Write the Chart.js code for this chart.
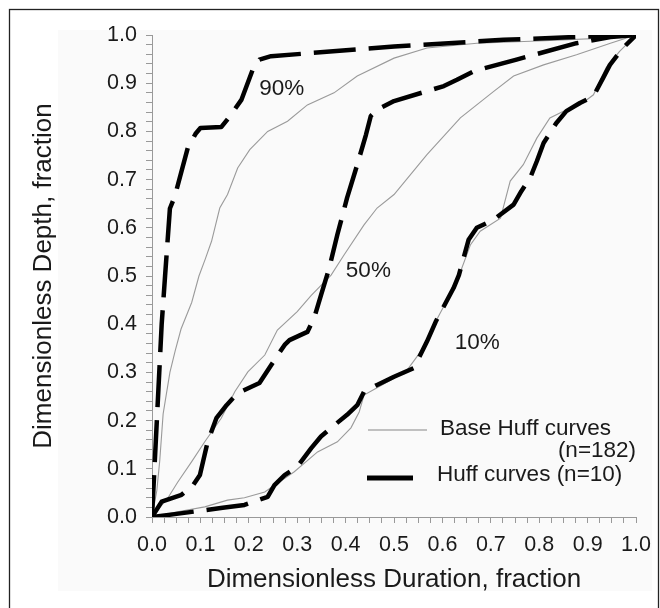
<!DOCTYPE html>
<html>
<head>
<meta charset="utf-8">
<script src="https://cdn.jsdelivr.net/npm/chart.js@4.4.1/dist/chart.umd.min.js"></script>
<style>
html,body{margin:0;padding:0;background:#fff;}
canvas{display:block;}
</style>
</head>
<body>
<canvas id="c" width="660" height="608"></canvas>
<script>
// ---- data ----
const huff90X = [0,0.005,0.01,0.015,0.02,0.027,0.037,0.047,0.074,0.09,0.1,0.143,0.16,0.185,0.208,0.222,0.246,0.5,0.726,0.953,1];
const huff90Y = [0,0.1,0.2,0.3,0.4,0.5,0.64,0.665,0.766,0.795,0.807,0.809,0.83,0.866,0.928,0.949,0.956,0.976,0.99,0.999,1];

const huff50X = [0,0.02,0.061,0.085,0.099,0.115,0.133,0.154,0.177,0.222,0.246,0.274,0.284,0.321,0.335,0.349,0.366,0.383,0.403,0.424,0.442,0.452,0.465,0.5,0.603,0.63,0.665,0.753,0.877,0.947,1];
const huff50Y = [0,0.032,0.046,0.066,0.087,0.156,0.205,0.232,0.257,0.278,0.315,0.357,0.367,0.384,0.413,0.46,0.516,0.586,0.662,0.731,0.793,0.832,0.845,0.863,0.894,0.907,0.925,0.949,0.983,0.996,1];

const huff10X = [0,0.047,0.146,0.191,0.239,0.253,0.274,0.3,0.329,0.349,0.37,0.403,0.424,0.438,0.465,0.5,0.541,0.568,0.586,0.623,0.634,0.654,0.671,0.706,0.747,0.763,0.781,0.795,0.809,0.835,0.856,0.884,0.912,0.932,0.946,0.973,1];
const huff10Y = [0,0.006,0.019,0.025,0.042,0.066,0.087,0.104,0.143,0.167,0.185,0.212,0.232,0.26,0.274,0.291,0.309,0.364,0.405,0.475,0.502,0.575,0.6,0.617,0.648,0.676,0.703,0.738,0.776,0.817,0.842,0.859,0.873,0.911,0.938,0.973,1];

const base90X = [0,0.01,0.016,0.023,0.037,0.048,0.06,0.082,0.097,0.11,0.123,0.14,0.156,0.177,0.202,0.239,0.28,0.321,0.376,0.424,0.5,0.568,0.671,0.81,0.947,1];
const base90Y = [0,0.055,0.117,0.214,0.30,0.345,0.39,0.445,0.5,0.535,0.572,0.641,0.669,0.724,0.762,0.80,0.821,0.855,0.88,0.915,0.952,0.973,0.983,0.988,0.994,1];

const base50X = [0,0.033,0.053,0.082,0.109,0.143,0.171,0.198,0.233,0.259,0.3,0.329,0.37,0.397,0.438,0.465,0.5,0.568,0.637,0.706,0.747,0.809,0.877,0.947,1];
const base50Y = [0,0.04,0.072,0.115,0.156,0.205,0.26,0.301,0.336,0.388,0.426,0.46,0.502,0.544,0.606,0.641,0.669,0.752,0.828,0.883,0.915,0.938,0.959,0.983,1];

const base10X = [0,0.053,0.109,0.156,0.191,0.233,0.259,0.294,0.342,0.383,0.411,0.428,0.438,0.465,0.5,0.527,0.555,0.582,0.623,0.634,0.658,0.678,0.72,0.74,0.767,0.795,0.822,0.85,0.884,0.912,0.938,0.966,1];
const base10Y = [0,0.011,0.021,0.035,0.04,0.052,0.07,0.094,0.135,0.156,0.185,0.218,0.253,0.268,0.288,0.305,0.343,0.398,0.475,0.5,0.565,0.593,0.62,0.697,0.731,0.786,0.828,0.842,0.855,0.876,0.932,0.966,1];

const curveLabels = ['90%','50%','10%'];
const curveLabelX = [0.268,0.447,0.672];
const curveLabelY = [0.888,0.51,0.361];

const legendLabels = ['Base Huff curves', '(n=182)', 'Huff curves (n=10)'];
const xTitle = 'Dimensionless Duration, fraction';
const yTitle = 'Dimensionless Depth, fraction';

// ---- helpers ----
const pts = (xs, ys) => xs.map((x, i) => ({x: x, y: ys[i]}));
const FONT = "'Liberation Sans', Arial, sans-serif";
const TXT = '#1a1a1a';
const AXIS = '#999';

const huffStyle = {borderColor:'#000', borderWidth:4.5, borderDash:[42,13], borderJoinStyle:'round', pointRadius:0, tension:0, fill:false};
const baseStyle = {borderColor:'#9a9a9a', borderWidth:1.1, pointRadius:0, tension:0, fill:false};

const decoPlugin = {
  id: 'deco',
  beforeDraw(chart) {
    const ctx = chart.ctx;
    ctx.save();
    ctx.setLineDash([]);
    ctx.fillStyle = '#fafafa';
    ctx.fillRect(58, 30, 594, 561);
    ctx.strokeStyle = '#222';
    ctx.lineWidth = 1.3;
    ctx.strokeRect(9.5, 9.5, 649, 640);
    ctx.restore();
  },
  afterDraw(chart) {
    const ctx = chart.ctx;
    const xs = chart.scales.x, ys = chart.scales.y;
    ctx.save();
    ctx.setLineDash([]);
    ctx.lineDashOffset = 0;
    ctx.fillStyle = TXT;
    ctx.font = '22.5px ' + FONT;
    ctx.textAlign = 'center';
    ctx.textBaseline = 'middle';
    curveLabels.forEach((t, i) => {
      ctx.fillText(t, xs.getPixelForValue(curveLabelX[i]), ys.getPixelForValue(curveLabelY[i]));
    });
    // legend
    const ca = chart.chartArea;
    const lx = ca.left + 216;
    ctx.fillStyle = baseStyle.borderColor;
    ctx.fillRect(lx, 429.4, 59, 1.2);
    ctx.fillStyle = '#000';
    ctx.fillRect(lx - 1, 475.5, 46, 5);
    ctx.fillStyle = TXT;
    ctx.textAlign = 'left';
    ctx.fillText(legendLabels[0], ca.left + 288, 429);
    ctx.textAlign = 'right';
    ctx.fillText(legendLabels[1], ca.right, 451);
    ctx.textAlign = 'left';
    ctx.fillText(legendLabels[2], ca.left + 285, 475);
    ctx.restore();
  }
};

const tickCb = (v) => Math.abs(v * 10 - Math.round(v * 10)) < 1e-6 ? v.toFixed(1) : '';

new Chart(document.getElementById('c'), {
  type: 'line',
  data: {
    datasets: [
      Object.assign({label:'Huff 90%', data: pts(huff90X, huff90Y)}, huffStyle),
      Object.assign({label:'Huff 50%', data: pts(huff50X, huff50Y)}, huffStyle),
      Object.assign({label:'Huff 10%', data: pts(huff10X, huff10Y)}, huffStyle),
      Object.assign({label:'Base 90%', data: pts(base90X, base90Y)}, baseStyle),
      Object.assign({label:'Base 50%', data: pts(base50X, base50Y)}, baseStyle),
      Object.assign({label:'Base 10%', data: pts(base10X, base10Y)}, baseStyle)
    ]
  },
  options: {
    responsive: false,
    animation: false,
    devicePixelRatio: 1,
    layout: {padding: {left: 0, right: 22, top: 35, bottom: 0}},
    plugins: {legend: {display: false}, tooltip: {enabled: false}},
    scales: {
      x: {
        type: 'linear', min: 0, max: 1,
        afterFit(s) { s.height = 91; },
        border: {color: AXIS, width: 1},
        grid: {drawOnChartArea: false, drawTicks: true, tickLength: 6, tickColor: AXIS},
        ticks: {stepSize: 0.025, autoSkip: false, maxRotation: 0, minRotation: 0, padding: 9,
                color: TXT, font: {family: FONT, size: 21.5}, callback: tickCb},
        title: {display: true, text: xTitle, color: TXT, font: {family: FONT, size: 26}, padding: {top: 0, bottom: 13}}
      },
      y: {
        type: 'linear', min: 0, max: 1,
        afterFit(s) { s.width = 152; },
        border: {color: AXIS, width: 1},
        grid: {drawOnChartArea: false, drawTicks: true, tickLength: 6, tickColor: AXIS},
        ticks: {stepSize: 0.02, autoSkip: false, padding: 9,
                color: TXT, font: {family: FONT, size: 21.5}, callback: tickCb},
        title: {display: true, text: yTitle, color: TXT, font: {family: FONT, size: 26}, padding: {top: 28, bottom: 0}}
      }
    }
  },
  plugins: [decoPlugin]
});
</script>
</body>
</html>
